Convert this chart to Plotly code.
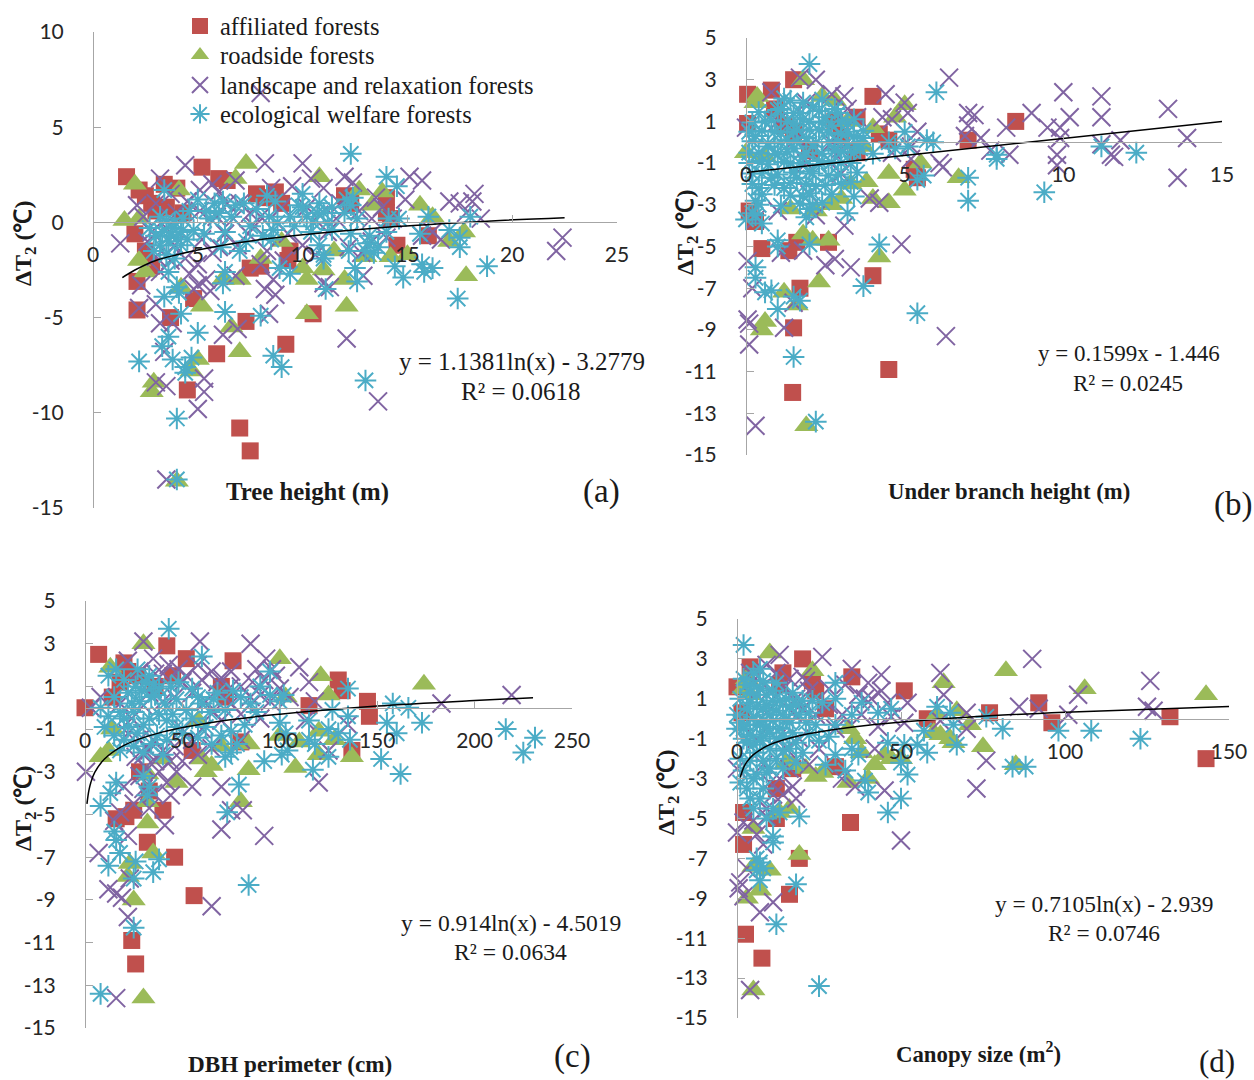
import plotly.graph_objects as go

W, H = 1254, 1080
def fx(px):
    return px / W
def fy(py):
    return 1 - py / H

SERIES = ["affiliated forests", "roadside forests", "landscape and relaxation forests", "ecological welfare forests"]
COLORS = ["#C0504D", "#9BBB59", "#8064A2", "#4BACC6"]

a_red = [(1.6,2.4),(2.2,1.7),(2.5,1.4),(2.8,1),(3,0.6),(3.4,2),(4,1.8),(3.5,0.8),(4.3,0.5),(5.2,2.9),(6,2.3),(6.4,2.2),(7.8,1.5),(8.2,1.3),(8.7,1.6),(9,1),(12,1.4),(12.3,1),(14,1.3),(14,0.5),(14.2,0.2),(2,-0.6),(2.5,-1.5),(2.8,-2.3),(2.1,-3.1),(2.1,-4.6),(3.7,-5),(4.8,-4),(7.5,-2.4),(8,-2.3),(9.3,-2),(9.4,-1.5),(10.5,-4.8),(7.3,-5.2),(9.2,-6.4),(5.9,-6.9),(4.5,-8.8),(7,-10.8),(7.5,-12),(14.5,-1.2),(16,-0.7)]
a_green = [(1.5,0.1),(2,2),(2.2,0.2),(4.1,1.7),(6.8,2.3),(7.3,3.1),(10.8,2.4),(12.7,1.7),(13.3,0.9),(13.8,1.6),(15.6,0.9),(16.2,0.3),(17,-1),(17.7,-0.5),(2.2,-2),(2.5,-2.6),(4.2,-3.4),(6.2,-3),(7,-3),(13,-1.8),(14.2,-1.8),(15,-1.7),(10,-2.4),(10.2,-3),(11,-2.5),(12,-3),(12.1,-4.4),(10.2,-4.8),(5.2,-4.4),(6.6,-5.5),(7,-6.8),(5,-7.2),(4.7,-7.8),(2.9,-8.4),(2.8,-8.9),(4,-13.6),(17.8,-2.8),(8,-1.9),(9,-1),(11.5,-1.5)]
a_purple = [(1.3,-1.1),(2.1,0.9),(2.4,0.3),(2.8,-0.5),(3.2,2.3),(3.5,-0.3),(4,0.5),(4.4,3.0),(3.9,-1.2),(2.6,-1),(3,-1.8),(2.3,-3.3),(2.2,-4.5),(3.0,-4.3),(3.2,-5.3),(3.8,-5.3),(3.4,-6.8),(3,-8.4),(3.5,-8.6),(5.3,-8.2),(5.3,-8.9),(5,-9.8),(3.5,-13.5),(5,-2.2),(5,-3.3),(4.8,-3.5),(5.4,-3),(5.6,-3.6),(5.1,1.7),(5.7,2),(5.1,0.6),(5.9,0.3),(6,-1.3),(6.4,1),(6.7,0.2),(6.8,2.2),(7.0,1),(7.4,-0.6),(7.7,-0.2),(6.8,-2.8),(6.2,-5.9),(6.9,-5.6),(8.2,-3.5),(8.6,-3),(8.7,-3.8),(8.4,-4.8),(8.2,3.1),(8.5,1.8),(8,0.3),(8.3,-1.5),(9.1,-2),(9.5,1.9),(10,3.1),(10.4,2.3),(10.2,0.8),(10.8,0.4),(11,1.8),(11.2,-0.5),(11,-3.2),(11.3,-3.4),(11.8,1),(12,2.4),(12.2,-1.3),(12.4,2.1),(12.7,0.6),(12.9,-2.8),(12.1,-6.1),(13.5,1.3),(13.8,0.8),(13.3,-1),(14,-0.8),(15.1,2.4),(15.7,2.2),(14.9,1.2),(15.7,-0.7),(16.2,-0.5),(16.6,-0.9),(17,1.1),(17.5,1),(17.8,0.5),(18.1,1.1),(18.2,1.5),(18.5,0.2),(22.1,-1.5),(22.4,-0.8),(8,6.8),(13.6,-9.4),
            (3.2,-2.6),(3.7,-2),(4.4,-1.9),(4.6,-2.7),(5.2,-0.9),(5.7,-1.6),(6.3,-0.6),(6.9,-1.2),(7.5,0.5),(8,-2.2),(9,0.8),(9.3,-0.6),(10,-1.2),(10.6,-1.7),(11.6,0.2),(12.8,-1.6),(13.3,0.2),(14.3,0.2),(3,1),(3.7,1.5),(4.5,1.1),(6,1.6)]
a_teal = [(3.4,1.7),(3.2,0.3),(3.8,-0.3),(4,-0.8),(3.6,-1),(3,-0.7),(2.7,-0.3),(3.2,-1.2),(4.3,0.2),(5,1.2),(4.8,-0.4),(5.3,-0.6),(5.6,0.2),(5.8,1),(6,0.5),(6.3,-0.5),(6.1,-1.3),(6.8,0.9),(7,-1.5),(7.2,1),(7.5,-0.2),(8.3,1.4),(8.7,1.1),(8.8,0),(8.6,-0.4),(8.9,-2.4),(9.8,0.9),(10,1.5),(10.2,0.3),(10.5,0),(10.8,1),(11,0.5),(11.2,0),(10.8,-1.2),(11,-1.7),(11.4,-0.4),(11,-1.9),(11.1,-3.5),(12,0.5),(12.1,1.2),(12.3,-0.6),(12.6,0.2),(12.2,-1.5),(12.5,-2.4),(12.6,-3.1),(13,-1.5),(13.1,-1.1),(13.6,-1.3),(14,-0.5),(14,2.4),(14.6,0.2),(14.4,-2.3),(14.8,-2.9),(14.5,1.9),(15.6,-0.6),(16,0.3),(15.7,-2.2),(16.2,-2.4),(15.8,-2.6),(17,-0.4),(17.5,-0.8),(17.5,-1.3),(18,0.3),(18.8,-2.3),(17.4,-4),(12.3,3.6),(2.2,-7.3),(3.4,-3.9),(3.6,-6),(3.3,-6.5),(3.8,-7.2),(4.4,-7.6),(4.7,-7.1),(4.4,-7.9),(4,-3.4),(4.2,-4.8),(4.1,-3.7),(5,-5.8),(6.2,-3.2),(6.3,-2.6),(6.3,-4.7),(8,-4.9),(8.6,-7),(9,-7.6),(13,-8.3),(4,-10.3),(4,-13.5),(8.5,-0.9),(9.4,-2.7),
          (3.5,0.1),(3.7,-0.7),(4.2,-0.5),(3.3,-0.5),(3.9,0),(4.5,-0.9),(4.6,0.6),(2.9,-1.5),(3.5,-1.7),(3.9,-1.9),(3.6,-2.6),(4.2,-1.2),(5.4,0.6),(6.2,1.1),(6.6,0.3),(7.8,0.7),(9.4,0.3),(9.6,-0.2),(10,0.8),(10.7,0.5),(10.4,-0.5),(11.4,0.8),(12.4,1.3),(12.3,0.9),(13.2,-0.7),(13.4,-1.6),(14.1,0.2),(7.3,-1),(8.1,-0.7),(8.4,0.3)]
a_trend = [(1.4,-2.9),(2,-2.5),(3,-2.0),(4,-1.7),(5,-1.45),(7,-1.05),(10,-0.65),(14,-0.25),(19,0.08),(22.5,0.25)]

b_red = [(0.05,2.3),(0.8,2.5),(1.5,3),(0.05,0.9),(0.9,1.6),(1.2,0.8),(1.5,0.5),(2,-0.4),(2.8,1),(3,0.3),(3.5,1.2),(3.5,-0.5),(4,2.2),(4.2,0.4),(4.5,0.1),(5.3,-1.3),(5.4,-1.7),(7,0.1),(8.5,1),(0.1,-3.3),(0.3,-3.8),(0.5,-5.1),(1.35,-5.2),(1.6,-4.8),(2.6,-4.8),(1.7,-7),(1.5,-8.9),(1.47,-12),(4,-6.4),(4.5,-10.9)]
b_green = [(0.3,1.9),(0.35,2.2),(0,-0.5),(1.8,3),(2.4,2.2),(2.8,2),(3.2,1),(4,0.7),(3.7,-0.2),(5,1.8),(4.7,1.2),(4.5,-1.5),(4.5,-2.9),(5,-2.3),(5.5,-1),(6.7,-1.7),(3,-2.7),(3.3,-2),(3.8,-1.9),(2.7,-3),(2.2,-3.3),(1.4,-3.2),(1.8,-4.4),(2.1,-4.7),(2.6,-4.7),(1.2,-7.2),(1.6,-7.8),(2.3,-6.7),(0.6,-8.6),(0.5,-9),(1.9,-13.6),(4.2,-5.5),(4,-2.7),(0.6,-0.7)]
b_purple = [(0,0.7),(0.8,2.4),(1.7,3.1),(2.2,3),(2.7,2.3),(3.1,2.2),(1.9,1.9),(3.2,1.6),(3.5,1.2),(4.4,2.3),(4.3,1.2),(4.6,1.1),(5,1.9),(5.1,1.4),(5.4,0.5),(5.2,-0.2),(4.6,-0.5),(5.2,-0.8),(6.1,-1),(6.2,-1.2),(6.4,3.1),(7,1.4),(7,0.8),(7.2,1.3),(6.9,0.3),(7.4,0.2),(7.7,-0.4),(8.2,0.7),(8.3,-0.6),(9,1.4),(9.5,0.7),(9.9,0.7),(9.9,0.2),(9.8,-0.6),(9.8,-1.1),(10,2.4),(10.2,1.2),(11.2,2.2),(11.2,1.2),(11.2,-0.1),(11.5,-0.6),(11.8,0.1),(11.6,-0.7),(13.3,1.6),(13.9,0.2),(13.6,-1.7),(6.3,-9.3),(4.9,-4.9),(0.3,-13.6),(0.05,-8.5),(0.1,-8.7),(0.1,-9.7),(0.05,-5.7),(0.2,-7),(1.2,-8.9),(1.5,-7.7),(2.5,-5.9),(2.8,-5.6),(3.3,-6),(3.1,-4),(1,-3.3),(0.3,-3.7),(1.1,-5.3),(1.8,-5.2),(2.2,-3.5),(3.9,-2.7),(4.2,-2.9),(1,1),(1.6,0.2),(2.7,0),(2.9,-0.7),(3,-0.3),(3,-1.5),(2,-2.5),(1.9,-1)]
b_teal = [(0.1,-0.5),(0.2,-1.5),(0.3,0.3),(0.4,-2.2),(0.5,-0.9),(0.6,1),(0.7,-0.2),(0.8,-1.7),(0.9,0.5),(1,-0.6),(1.1,1.6),(1.2,-2.2),(1.3,0.1),(1.3,1),(1.4,-1),(1.4,2),(1.5,-0.3),(1.6,0.6),(1.6,-1.7),(1.7,1.4),(1.8,-0.7),(1.8,-2.6),(1.9,0.2),(2,1),(2,-1.4),(2.1,-0.2),(2.1,1.7),(2.2,-2.1),(2.3,0.6),(2.3,-0.9),(2.4,-2.9),(2.5,1.2),(2.6,0),(2.6,-1.6),(2.7,0.8),(2.8,-0.4),(2.9,1.4),(3,-1),(3,0.4),(3.2,0.9),(3.2,-0.2),(3.3,-1.9),(3.4,0.3),(3.4,-2.6),(3.2,-3.4),(3.6,-0.3),(3.7,0.2),(4.5,0),(4.7,-0.3),(5,0.5),(5.1,-0.2),(5.4,-1.8),(5.6,-1.6),(5.7,0.1),(5.9,0),(6,2.4),(7,-1.7),(7,-2.8),(7.9,-0.6),(7.9,-0.8),(9.4,-2.4),(11.2,-0.2),(12.3,-0.5),(5.4,-8.2),(1.5,-10.3),(2.2,-13.4),(4.2,-4.9),(3.7,-6.9),(1.5,-7.4),(1.7,-7.6),(1,-8),(0.8,-7.1),(0.6,-7.2),(0.3,-6),(0.3,-6.5),(1,-4.7),(1,-5),(2,-4.9),(0,-3.7),(0.2,-3.4),(0.3,-2.8),(0.5,-3.9),(2,-3.2),(2,3.75),
          (1.2,2.1),(1.8,1.9),(2.4,2.05),(0.4,1.45),(1,1.55),(1.5,1.4),(2.3,1.5),(2.8,1.6),(0.2,0.95),(0.8,1.05),(1.5,0.9),(1.8,1.1),(2.4,0.95),(3,1),(3.4,1.1),(0.1,0.5),(0.5,0.55),(1.1,0.45),(1.5,0.5),(2,0.6),(2.6,0.45),(3.2,0.5),(3.7,0.55),(0.2,0.05),(0.7,-0.05),(1.1,0),(1.6,0.05),(2.2,0),(2.9,0.05),(3.5,-0.05),(0.4,-0.5),(0.9,-0.55),(1.3,-0.45),(1.9,-0.5),(2.4,-0.55),(3,-0.45),(3.4,-0.5),(4,-0.55),(0.1,-1),(0.7,-1.05),(1.2,-0.95),(1.7,-1),(2.3,-1.05),(2.7,-0.95),(3.3,-1),(0.5,-1.5),(1,-1.55),(1.5,-1.45),(2.1,-1.5),(2.9,-1.55),(3.5,-1.45),(0.2,-2),(0.9,-2.05),(1.4,-1.95),(1.9,-2),(2.5,-2.05),(3,-2),(0.5,-2.5),(1.4,-2.55),(2,-2.45),(2.7,-2.5),(0.4,-3),(1.1,-3.05),(1.7,-2.95),(2.1,-3),(0.3,-3.5),(1.9,-3.6)]
b_trend = [(0,-1.45),(15,1.0)]

c_red = [(7,2.5),(20,2.1),(42,2.9),(52,2.3),(76,2.2),(130,1.3),(132,0.8),(145,0.3),(146,-0.4),(115,0.1),(0,0),(14,0.5),(18,1.2),(22,1.7),(27,1.5),(45,1.5),(36,1),(70,1),(72,0.5),(137,-2),(80,-1.6),(55,-2),(16,-5.2),(21,-5.1),(25,-4.8),(40,-4.8),(32,-6.3),(46,-7),(56,-8.8),(24,-10.9),(26,-12),(33,-3.9),(28,-3)]
c_green = [(13,1.9),(30,3),(100,2.3),(121,1.5),(125,0.6),(174,1.1),(14,-1),(8,-2.3),(12,-2),(60,-2.4),(62,-3),(65,-2.7),(47,-3.5),(32,-3.1),(84,-1.7),(84,-2.9),(80,-4.4),(108,-2.8),(110,-1.6),(120,-1.1),(128,-1.5),(120,-2.2),(137,-2.3),(32,-4.4),(32,-5.4),(35,-6.8),(23,-7.3),(22,-7.9),(25,-9),(30,-13.6),(58,-0.6),(70,-1.8),(40,-2.4),(100,-1.3),(103,0.5)]
c_purple = [(0.5,-3),(3,0),(8,0.5),(7,-6.8),(12,-8.5),(16,-8.7),(19,-8.9),(15,-5.3),(22,-6),(23,-8),(22,-9.8),(16,-13.6),(30,3.1),(59,3.1),(85,3),(22,2.2),(35,2.3),(93,2.3),(96,1.8),(110,1.9),(115,1.2),(88,1.8),(98,1.5),(60,1.3),(65,1.7),(68,1.2),(74,0.9),(50,1.2),(40,1.6),(33,0.7),(40,0.3),(46,0.5),(55,0.7),(62,0.3),(30,0.1),(24,-0.5),(28,-1.5),(33,-2),(36,-2.5),(30,-2.2),(28,-3.2),(38,-3),(44,-2.5),(47,-3),(50,-2.5),(55,-3.7),(42,-3.5),(44,-4.1),(35,-4),(41,-5.5),(70,-3.7),(75,-4.8),(70,-5.7),(81,-4.8),(92,-6),(65,-9.3),(120,-3.5),(125,-2),(113,-0.6),(135,-0.8),(90,-0.5),(85,0.5),(95,0.3),(80,-0.3),(70,-0.6),(60,-1),(55,-1.5),(65,-1.9),(80,-1.5),(183,0.2),(219,0.6),(118,0.3),(105,0.5),
            (28,1.7),(36,1.6),(43,2),(48,1.8),(52,1.5),(58,2),(70,1.4),(75,1.7),(80,1),(86,1.2),(92,1.3),(18,0.2),(22,-1.2),(26,-2.3),(31,-2.8),(35,-1.5),(40,-2),(46,-1.8),(50,-1),(58,-2.2),(66,-0.2),(75,0.2),(90,0.6),(100,0.9),(30,-3.8),(25,-4.5),(20,-3.7),(18,-4.9),(33,-4.7)]
c_teal = [(43,3.7),(60,2.4),(16,1.8),(12,1.5),(27,1.8),(31,1.2),(26,1),(35,1.1),(34,0.5),(28,0.3),(22,0.7),(18,-0.2),(8,0),(10,-0.9),(20,-0.5),(25,-0.2),(30,-0.8),(38,-0.3),(36,0.6),(44,1),(47,0.4),(52,-0.1),(58,0.5),(66,0.4),(72,-0.1),(76,0.8),(85,0.2),(90,1),(95,1.7),(100,0.3),(102,0.6),(100,-0.7),(103,-1.2),(104,-2),(101,-2.2),(92,-2.5),(75,-2.1),(78,-1.7),(70,-1.3),(72,-2.3),(62,-0.9),(50,-1.2),(42,-1.5),(30,-2.1),(18,-2),(15,-1.3),(16,-3.5),(13,-4),(8,-4.6),(15,-5.8),(16,-6.2),(18,-6.8),(12,-7.4),(26,-7.2),(25,-8),(35,-7.7),(38,-7.1),(25,-10.3),(8,-13.4),(84,-8.3),(73,-4.9),(79,-3.6),(115,-0.6),(115,-1.5),(118,-1.7),(125,-1),(127,-0.1),(130,-1.2),(125,-2.3),(117,-2.9),(135,0.9),(135,-0.4),(136,-1.5),(152,-2.4),(155,-0.7),(158,0.2),(160,-1.2),(162,-3.1),(166,0),(173,-0.7),(216,-1),(225,-2.1),(231,-1.4),(30,-3.2),(33,-3.7),(32,-4.1),
          (20,1.3),(24,0.2),(29,0.8),(33,1.5),(38,0.9),(41,0.2),(45,-0.3),(48,1.2),(55,0.9),(22,-0.9),(27,-1.2),(33,-0.5),(37,-1.3),(42,-0.6),(47,-0.9),(55,-0.5),(60,0.2),(64,-0.2),(68,0.7),(80,0.5),(88,-0.2),(95,0.6),(20,-1.5),(25,-1.8),(34,-1.7),(40,-2.2),(15,0.5),(12,-0.4),(65,-1.7),(75,-1.1),(82,-0.8),(58,-1.4)]
c_trend = [(1,-4.5),(2,-3.87),(3,-3.5),(5,-3.03),(10,-2.4),(20,-1.76),(40,-1.13),(70,-0.62),(100,-0.3),(150,0.08),(200,0.34),(230,0.47)]

d_red = [(0,1.6),(4,2.6),(14,2.3),(20,3),(23,1.9),(1.5,0.3),(13,1.7),(24,1.4),(35,2.1),(51,1.4),(58,0),(27,0.5),(77,0.3),(92,0.8),(96,-0.2),(132,0.1),(143,-2),(30,-2.4),(17,-2.5),(2,-4.7),(2,-6.3),(12,-5),(12,-3.5),(34.6,-5.2),(19,-7),(16,-8.8),(2.6,-10.8),(7.6,-12)]
d_green = [(10,3.3),(3,2),(23,2.4),(2,1.5),(4,1.2),(61,0.2),(62,-0.8),(60,-0.7),(65,-1),(63,1.8),(71,-0.3),(67,0.4),(66,-1.2),(75,-1.4),(82,2.4),(106,1.5),(143,1.2),(85,-2.3),(42,-2.3),(45,-1.8),(47,-2),(50,-2),(38,-1.7),(36,-1),(34,-0.5),(40,-3),(34,-3.2),(21,-2.5),(24,-2.9),(17,-2.3),(15,-2.2),(13,-4.7),(16,-4.5),(19,-6.8),(10,-7.6),(7,-8.6),(3,-9),(5,-7.4),(5,-5.5),(5,-13.6),(26,-2.7)]
d_purple = [(13,3.2),(26,3.1),(9,2.7),(21,1.9),(35,2.5),(37,1.2),(40,1.8),(44,2.2),(41,1),(44,1.4),(46,0.8),(52,0.8),(51,-0.2),(62,-0.1),(62,2.3),(63,1.2),(70,0.3),(70,-0.5),(86,0.6),(90,3),(104,1.2),(101,0.2),(126,1.9),(125,0.6),(127,0.4),(92,0.5),(76,-2.1),(73,-3.5),(45,-3.6),(50,-6.1),(22,-2.3),(32,-3),(36,-3.4),(42,-1.5),(30,-0.5),(28,0.7),(20,0.5),(17,-3.4),(13,-3),(11,-3.8),(9,-4.5),(0,-5.7),(2,-5.2),(5,-5.1),(6,-5.8),(3,-7.5),(1,-8.2),(2,-8.9),(0.5,-8.5),(7,-9.7),(11,-9.2),(4,-13.6),(0,-2.5),(12,-1),(15,-1.5),(25,-1.5),(32,0.2),(38,0.2),(43,-0.4),(47,0.1),(20,2.1),(14,1.5),(18,1),(10,1.4),(4,2.3),
            (5,1.9),(7,1.5),(9,0.3),(12,2.3),(16,2),(17,0.3),(22,1.4),(24,0.2),(28,1.5),(33,1.7),(39,1),(6,-1),(8,-2.3),(10,-3.2),(14,-3.8),(16,-2.5),(18,-4),(19,-1),(8,-6.3),(9,-4.9)]
d_teal = [(2,3.7),(5,2.3),(7,2.5),(4,1.3),(6,1.2),(8,1.9),(9,0.7),(11,1.4),(12,0.4),(3,0.5),(5,0.1),(7,-0.3),(2,-0.5),(0,0.2),(0,-0.5),(3,-1.2),(6,-1.7),(8,-0.9),(10,-1.5),(13,-0.5),(15,0),(17,-0.7),(14,-1.6),(9,-2.7),(5,-3),(3,-3.5),(8,-3.5),(7,-4),(11,-4.5),(13,-4.7),(19,-4.9),(11,-5.9),(11,-6.2),(6,-7),(7,-7.2),(6,-7.6),(8,-7.5),(18,-8.3),(12,-10.3),(25,-13.4),(7,-8.1),(15,1),(18,0.7),(22,0.3),(26,0.8),(30,1),(30,1.8),(22,-0.8),(25,-1.1),(28,-0.9),(30,-1.8),(33,-2.6),(37,-1.8),(35,-1.5),(27,-2.3),(30,-0.3),(35,0.2),(38,0.8),(43,0.3),(47,0.5),(46,-1.2),(51,-1.3),(50,-2.2),(52,-2.8),(50,-4),(46,-4.7),(40,-3.7),(39,-3.1),(55,-1.3),(57,-0.6),(58,-1.7),(61,0.6),(65,0.3),(66,-0.3),(67,-1.3),(76,0.1),(81,-0.5),(84,-2.4),(88,-2.4),(98,-0.6),(108,-0.6),(123,-1),(20,-1.7),
          (1,1),(2,2),(3,1.7),(4,0.8),(5,1.7),(6,0.6),(7,1.5),(8,0.5),(9,1.2),(10,0.2),(11,0.9),(12,1.8),(13,0.9),(14,0.2),(16,0.6),(17,1.3),(19,0.2),(20,0.9),(1,-0.2),(2,-1),(3,-0.3),(4,-0.8),(5,-1.3),(6,-0.3),(7,-1.1),(8,-0.1),(9,-0.4),(10,-0.7),(11,-0.1),(12,-1),(14,-0.9),(16,-0.2),(18,-1.2),(21,-0.2),(23,0.9),(24,-0.3),(1,-2),(2,-2.6),(4,-2.1),(6,-2.8),(8,-2.1),(10,-2.5),(12,-2),(14,-2.5),(16,-1.5),(18,-2.2),(4,-4),(5,-4.5),(9,-5),(1,-3.2)]
d_trend = [(1,-2.94),(2,-2.45),(3,-2.16),(5,-1.8),(10,-1.3),(20,-0.81),(40,-0.32),(70,0.08),(100,0.33),(150,0.62)]

a_xticks = ["0","5","10","15","20","25"]
a_yticks = ["10","5","0","-5","-10","-15"]
b_xticks = ["0","5","10","15"]
c_xticks = ["0","50","100","150","200","250"]
d_xticks = ["0","50","100","150"]
odd_yticks = ["5","3","1","-1","-3","-5","-7","-9","-11","-13","-15"]

panels = [
    dict(sid="", s=[a_red,a_green,a_purple,a_teal], t=a_trend, xt=a_xticks, yt=a_yticks, xr=(0,25), yr=(-15,10), px=(93,617), py=(32,508), y0=222),
    dict(sid="2", s=[b_red,b_green,b_purple,b_teal], t=b_trend, xt=b_xticks, yt=odd_yticks, xr=(0,15), yr=(-15,5), px=(746,1222), py=(38,455), y0=142),
    dict(sid="3", s=[c_red,c_green,c_purple,c_teal], t=c_trend, xt=c_xticks, yt=odd_yticks, xr=(0,250), yr=(-15,5), px=(85,572), py=(601,1028), y0=708),
    dict(sid="4", s=[d_red,d_green,d_purple,d_teal], t=d_trend, xt=d_xticks, yt=odd_yticks, xr=(0,150), yr=(-15,5), px=(737,1229), py=(619,1018), y0=719),
]
labels = [
    (307,492,"<b>Tree height (m)</b>",24.8,0), (1009,491,"<b>Under branch height (m)</b>",22.7,0),
    (290,1064,"<b>DBH perimeter (cm)</b>",23.2,0), (978,1052,"<b>Canopy size (m<sup>2</sup>)</b>",22.8,0),
    (601,491,"(a)",33,0), (1233,504,"(b)",33,0), (572,1056,"(c)",33,0), (1217,1061,"(d)",31,0),
    (522,362,"y = 1.1381ln(x) - 3.2779",25,0), (521,391,"R² = 0.0618",25,0),
    (1129,353,"y = 0.1599x - 1.446",23,0), (1128,383,"R² = 0.0245",23,0),
    (511,923,"y = 0.914ln(x) - 4.5019",23.6,0), (510,952,"R² = 0.0634",23.6,0),
    (1104,904,"y = 0.7105ln(x) - 2.939",23.4,0), (1104,933,"R² = 0.0746",23.4,0),
    (25,244,"<b>ΔT<sub>2</sub> (℃)</b>",24,-90), (687,233,"<b>ΔT<sub>2</sub> (℃)</b>",24,-90),
    (25,809,"<b>ΔT<sub>2</sub> (℃)</b>",24,-90), (668,793,"<b>ΔT<sub>2</sub> (℃)</b>",24,-90),
]
legend_rows = [26, 55, 85, 114]

AX = "#A6A6A6"
TICK = dict(family="Lato, Carlito, sans-serif", size=21, color="#262626")
layout = dict(width=W, height=H, margin=dict(l=0,r=0,t=0,b=0,autoexpand=False), paper_bgcolor="white", plot_bgcolor="white",
              font=dict(family="Liberation Serif", color="#1a1a1a"), showlegend=True)
for k, ly in enumerate(legend_rows):
    layout["legend" if k == 0 else f"legend{k+1}"] = dict(
        x=fx(180), y=fy(ly), xanchor="left", yanchor="middle", bgcolor="rgba(0,0,0,0)",
        font=dict(family="Liberation Serif", size=24.5, color="#1a1a1a"), itemsizing="trace", itemwidth=30)
traces = []
for i, p in enumerate(panels):
    sid = p["sid"]
    xv = [float(v) for v in p["xt"]]
    yv = [float(v) for v in p["yt"]]
    layout["xaxis"+sid] = dict(domain=[fx(p["px"][0]), fx(p["px"][1])], range=list(p["xr"]), tickmode="array", tickvals=xv, ticktext=p["xt"],
                      anchor="free", position=fy(p["y0"]), showgrid=False, zeroline=False, showline=True, automargin=False,
                      linecolor=AX, linewidth=1, ticks="inside", ticklen=7, tickcolor=AX, tickfont=TICK, ticklabelstandoff=14)
    layout["yaxis"+sid] = dict(domain=[fy(p["py"][1]), fy(p["py"][0])], range=list(p["yr"]), tickmode="array", tickvals=yv, ticktext=p["yt"],
                      anchor="free", position=fx(p["px"][0]), showgrid=False, zeroline=False, showline=True, automargin=False,
                      linecolor=AX, linewidth=1, ticks="inside", ticklen=7, tickcolor=AX, tickfont=TICK, ticklabelstandoff=25)
    markers = [dict(symbol="square", size=17, color=COLORS[0]),
               dict(symbol="triangle-up", size=21, color=COLORS[1]),
               dict(symbol="x-thin-open", size=18, color=COLORS[2], line=dict(width=2, color=COLORS[2])),
               dict(symbol="asterisk-open", size=18, color=COLORS[3], line=dict(width=2, color=COLORS[3]))]
    for j, pts in enumerate(p["s"]):
        traces.append(go.Scatter(x=[q[0] for q in pts], y=[q[1] for q in pts], mode="markers", name=SERIES[j],
                                 marker=markers[j], cliponaxis=False, showlegend=(i==0),
                                 legend="legend" if j == 0 else f"legend{j+1}",
                                 xaxis="x"+sid, yaxis="y"+sid, hoverinfo="skip"))
    traces.append(go.Scatter(x=[q[0] for q in p["t"]], y=[q[1] for q in p["t"]], mode="lines", showlegend=False,
                             line=dict(color="black", width=1.5, shape="spline"), cliponaxis=False,
                             xaxis="x"+sid, yaxis="y"+sid, hoverinfo="skip"))
layout["annotations"] = [dict(x=fx(x), y=fy(y), xref="paper", yref="paper", text=t, showarrow=False, textangle=a,
                              xanchor="center", yanchor="middle",
                              font=dict(family="Liberation Serif", size=s, color="#1a1a1a"))
                         for x,y,t,s,a in labels]
fig = go.Figure(traces, layout)
fig.write_html("out.html", post_script="document.body.style.margin='0';", config={"displayModeBar": False})
